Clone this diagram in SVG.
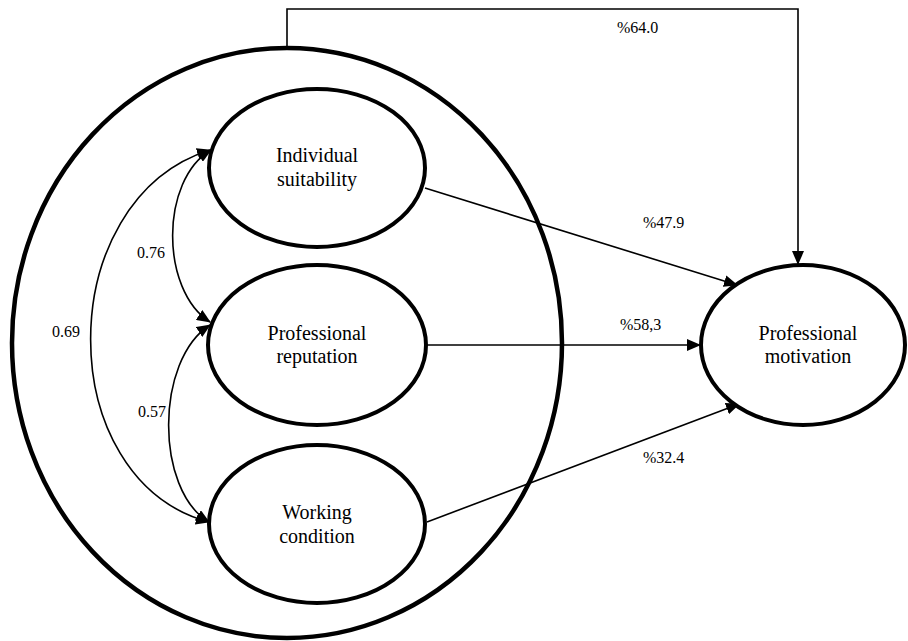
<svg xmlns="http://www.w3.org/2000/svg" width="908" height="641" viewBox="0 0 908 641">
<style>
.node{fill:#fff;stroke:#000;stroke-width:4}
.big{fill:none;stroke:#000;stroke-width:4.5}
.lbl{font-family:'Liberation Serif','DejaVu Serif',serif;font-size:20px;fill:#000;text-anchor:middle}
.num{font-family:'Liberation Serif','DejaVu Serif',serif;font-size:16px;fill:#000}
.con{fill:none;stroke:#000;stroke-width:1.6}
</style>
<defs>
<marker id="ah" markerUnits="userSpaceOnUse" markerWidth="14" markerHeight="12" refX="13" refY="6" orient="auto-start-reverse" viewBox="0 0 14 12">
<path d="M0,0 L14,6 L0,12 Z" fill="#000"/>
</marker>
</defs>
<rect width="908" height="641" fill="#fff"/>
<g id="outer">
<ellipse class="big" cx="287" cy="343" rx="275" ry="295"/>
</g>
<g id="connectors">
<path class="con" d="M287,46 V9 H798 V264" marker-end="url(#ah)"/>
<path class="con" d="M425,188 L737,285" marker-end="url(#ah)"/>
<path class="con" d="M427,345 L700,345" marker-end="url(#ah)"/>
<path class="con" d="M427,522 L739,404" marker-end="url(#ah)"/>
<path class="con" d="M211,150 C160,180 160,290 210,322" marker-start="url(#ah)" marker-end="url(#ah)"/>
<path class="con" d="M210,150 C51,200 51,480 209,522" marker-start="url(#ah)" marker-end="url(#ah)"/>
<path class="con" d="M210,325 C155,360 155,490 209,522" marker-start="url(#ah)" marker-end="url(#ah)"/>
</g>
<g id="individual-suitability">
<ellipse class="node" cx="317" cy="168" rx="108" ry="79"/>
<text class="lbl" x="317" y="162">Individual</text>
<text class="lbl" x="317" y="186">suitability</text>
</g>
<g id="professional-reputation">
<ellipse class="node" cx="317" cy="345" rx="109" ry="80"/>
<text class="lbl" x="317" y="340">Professional</text>
<text class="lbl" x="317" y="363">reputation</text>
</g>
<g id="working-condition">
<ellipse class="node" cx="317" cy="524" rx="108" ry="79"/>
<text class="lbl" x="317" y="519">Working</text>
<text class="lbl" x="317" y="543">condition</text>
</g>
<g id="professional-motivation">
<ellipse class="node" cx="803" cy="345" rx="102" ry="80"/>
<text class="lbl" x="808" y="340">Professional</text>
<text class="lbl" x="808" y="363">motivation</text>
</g>
<g id="labels">
<text class="num" x="617" y="33">%64.0</text>
<text class="num" x="643" y="228">%47.9</text>
<text class="num" x="620" y="330">%58,3</text>
<text class="num" x="643" y="463">%32.4</text>
<text class="num" x="137" y="258">0.76</text>
<text class="num" x="52" y="337">0.69</text>
<text class="num" x="138" y="417">0.57</text>
</g>
</svg>
